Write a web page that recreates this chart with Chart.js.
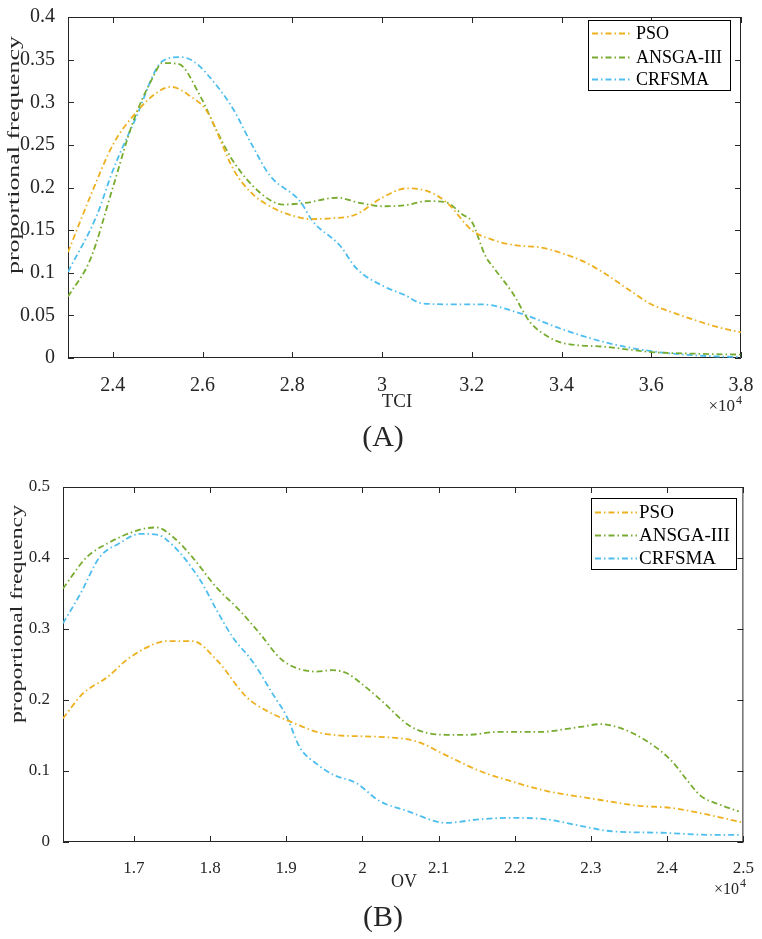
<!DOCTYPE html>
<html><head><meta charset="utf-8">
<script src="https://cdn.jsdelivr.net/npm/chart.js@4.4.1/dist/chart.umd.min.js"></script>
<style>
html,body{margin:0;padding:0;background:#fff;width:762px;height:939px;overflow:hidden}
canvas{position:absolute;left:0}
#ca{top:0}
#cb{top:465px}
</style></head><body>
<canvas id="ca" width="762" height="465"></canvas>
<canvas id="cb" width="762" height="474"></canvas>
<script>
// ---------- data ----------
const seriesNames = ['PSO', 'ANSGA-III', 'CRFSMA'];
const seriesColors = ['#EDB120', '#77AC30', '#4DBEEE'];

// Chart (A): TCI (x10^4)
const tciTicks = [2.4, 2.6, 2.8, 3.0, 3.2, 3.4, 3.6, 3.8];
const freqTicksA = [0, 0.05, 0.1, 0.15, 0.2, 0.25, 0.3, 0.35, 0.4];
const psoTciX = [2.30, 2.35, 2.40, 2.45, 2.50, 2.53, 2.57, 2.61, 2.67, 2.71, 2.75, 2.80, 2.84, 2.89, 2.94, 3.00, 3.055, 3.10, 3.145, 3.20, 3.25, 3.30, 3.35, 3.40, 3.45, 3.50, 3.55, 3.60, 3.65, 3.70, 3.75, 3.80];
const psoTciY = [0.124, 0.19, 0.25, 0.287, 0.312, 0.318, 0.308, 0.289, 0.22, 0.193, 0.178, 0.167, 0.163, 0.164, 0.168, 0.188, 0.199, 0.196, 0.182, 0.15, 0.138, 0.132, 0.13, 0.123, 0.113, 0.098, 0.08, 0.063, 0.053, 0.044, 0.036, 0.03];
const nsgaTciX = [2.30, 2.35, 2.40, 2.445, 2.49, 2.51, 2.546, 2.594, 2.632, 2.668, 2.73, 2.78, 2.83, 2.90, 2.95, 3.00, 3.05, 3.10, 3.14, 3.18, 3.20, 3.23, 3.25, 3.29, 3.33, 3.37, 3.40, 3.50, 3.60, 3.70, 3.80];
const nsgaTciY = [0.072, 0.116, 0.20, 0.277, 0.33, 0.346, 0.345, 0.308, 0.266, 0.231, 0.193, 0.18, 0.182, 0.188, 0.182, 0.178, 0.179, 0.184, 0.183, 0.168, 0.16, 0.12, 0.105, 0.077, 0.042, 0.025, 0.018, 0.013, 0.007, 0.005, 0.004];
const crfTciX = [2.30, 2.364, 2.40, 2.45, 2.51, 2.55, 2.58, 2.61, 2.667, 2.71, 2.75, 2.817, 2.846, 2.906, 2.943, 3.00, 3.05, 3.09, 3.15, 3.22, 3.31, 3.40, 3.50, 3.60, 3.70, 3.80];
const crfTciY = [0.101, 0.167, 0.22, 0.28, 0.348, 0.353, 0.348, 0.333, 0.293, 0.25, 0.214, 0.184, 0.16, 0.132, 0.105, 0.085, 0.074, 0.064, 0.063, 0.063, 0.052, 0.034, 0.018, 0.008, 0.003, 0.001];

// Chart (B): OV (x10^4)
const ovTicks = [1.7, 1.8, 1.9, 2.0, 2.1, 2.2, 2.3, 2.4, 2.5];
const freqTicksB = [0, 0.1, 0.2, 0.3, 0.4, 0.5];
const psoOvX = [1.607, 1.633, 1.665, 1.69, 1.715, 1.743, 1.777, 1.809, 1.848, 1.874, 1.90, 1.953, 2.022, 2.07, 2.11, 2.154, 2.197, 2.241, 2.302, 2.363, 2.406, 2.442, 2.497];
const psoOvY = [0.174, 0.209, 0.232, 0.256, 0.273, 0.283, 0.283, 0.256, 0.204, 0.185, 0.172, 0.152, 0.148, 0.142, 0.122, 0.10, 0.085, 0.072, 0.061, 0.051, 0.048, 0.041, 0.028];
const nsgaOvX = [1.607, 1.638, 1.668, 1.708, 1.73, 1.751, 1.777, 1.808, 1.839, 1.865, 1.895, 1.94, 1.96, 1.979, 2.0, 2.022, 2.066, 2.11, 2.14, 2.176, 2.232, 2.285, 2.313, 2.337, 2.372, 2.406, 2.424, 2.444, 2.468, 2.494];
const nsgaOvY = [0.357, 0.401, 0.422, 0.44, 0.443, 0.43, 0.401, 0.359, 0.326, 0.294, 0.256, 0.24, 0.242, 0.238, 0.222, 0.202, 0.161, 0.151, 0.151, 0.155, 0.155, 0.162, 0.166, 0.161, 0.143, 0.114, 0.09, 0.065, 0.053, 0.043];
const crfOvX = [1.607, 1.63, 1.655, 1.68, 1.708, 1.73, 1.751, 1.787, 1.809, 1.83, 1.856, 1.882, 1.90, 1.918, 1.94, 1.961, 1.992, 2.022, 2.058, 2.11, 2.154, 2.197, 2.241, 2.285, 2.328, 2.393, 2.459, 2.494];
const crfOvY = [0.308, 0.35, 0.401, 0.42, 0.434, 0.433, 0.418, 0.369, 0.326, 0.288, 0.254, 0.209, 0.178, 0.133, 0.11, 0.095, 0.083, 0.058, 0.044, 0.027, 0.032, 0.034, 0.032, 0.023, 0.015, 0.013, 0.01, 0.01];

// ---------- helpers ----------
const FONT = '"Liberation Serif","Times New Roman",serif';
const AXC = '#262626';
const pts = (xs, ys) => xs.map((x, i) => ({x: x, y: ys[i]}));
const fmt = v => String(Number(v.toFixed(3)));

function mkDataset(i, xs, ys) {
  return {
    label: seriesNames[i], data: pts(xs, ys),
    borderColor: seriesColors[i], backgroundColor: seriesColors[i],
    borderWidth: 1.8, borderDash: [6, 3, 1.5, 3], pointRadius: 0,
    cubicInterpolationMode: 'monotone', fill: false
  };
}

function stretchText(ctx, text, x, y, size, length, rotate) {
  ctx.save();
  ctx.font = size + 'px ' + FONT;
  const w = ctx.measureText(text).width;
  ctx.translate(x, y);
  if (rotate) ctx.rotate(-Math.PI / 2);
  ctx.scale(length ? length / w : 1, 1);
  ctx.textAlign = 'center'; ctx.textBaseline = 'middle';
  ctx.fillStyle = AXC;
  ctx.fillText(text, 0, 0);
  ctx.restore();
}

const framePlugin = {
  id: 'frame',
  beforeDatasetsDraw(chart) {
    const ctx = chart.ctx, a = chart.chartArea;
    const xs = chart.scales.x, ys = chart.scales.y;
    ctx.save();
    ctx.strokeStyle = AXC; ctx.lineWidth = 1;
    ctx.strokeRect(a.left + 0.5, a.top + 0.5, a.right - a.left - 1, a.bottom - a.top - 1);
    const L = 6;
    ctx.beginPath();
    xs.ticks.forEach(t => {
      const p = Math.round(xs.getPixelForValue(t.value)) + 0.5;
      ctx.moveTo(p, a.bottom); ctx.lineTo(p, a.bottom - L);
      ctx.moveTo(p, a.top); ctx.lineTo(p, a.top + L);
    });
    ys.ticks.forEach(t => {
      const p = Math.round(ys.getPixelForValue(t.value)) + 0.5;
      ctx.moveTo(a.left, p); ctx.lineTo(a.left + L, p);
      ctx.moveTo(a.right, p); ctx.lineTo(a.right - L, p);
    });
    ctx.stroke();
    ctx.restore();
  },
  afterDraw(chart) {
    const o = chart.options.plugins.frame;
    const ctx = chart.ctx;
    // legend
    const lg = o.legend;
    ctx.save();
    ctx.fillStyle = '#fff'; ctx.fillRect(lg.x, lg.y, lg.w, lg.h);
    ctx.strokeStyle = '#000'; ctx.lineWidth = 1;
    ctx.strokeRect(lg.x + 0.5, lg.y + 0.5, lg.w, lg.h);
    ctx.font = lg.size + 'px ' + FONT;
    ctx.textAlign = 'left'; ctx.textBaseline = 'middle';
    chart.data.datasets.forEach((ds, i) => {
      const y = lg.rows[i];
      ctx.strokeStyle = ds.borderColor; ctx.lineWidth = 1.8;
      ctx.setLineDash(ds.borderDash);
      ctx.beginPath(); ctx.moveTo(lg.l0, y + 0.5); ctx.lineTo(lg.l1, y + 0.5); ctx.stroke();
      ctx.setLineDash([]);
      ctx.fillStyle = '#000';
      ctx.fillText(ds.label, lg.tx, y + 1);
    });
    ctx.restore();
    // titles
    stretchText(ctx, o.yTitle.text, o.yTitle.x, o.yTitle.y, o.yTitle.size, o.yTitle.len, true);
    stretchText(ctx, o.xTitle.text, o.xTitle.x, o.xTitle.y, o.xTitle.size, o.xTitle.len, false);
    stretchText(ctx, o.panel.text, o.panel.x, o.panel.y, o.panel.size, 0, false);
    // x10^4
    const e = o.expo;
    ctx.save();
    ctx.fillStyle = AXC; ctx.textAlign = 'right'; ctx.textBaseline = 'middle';
    ctx.font = Math.round(e.size * 0.72) + 'px ' + FONT;
    const w4 = ctx.measureText('4').width;
    ctx.fillText('4', e.x, e.y - e.size * 0.38);
    ctx.font = e.size + 'px ' + FONT;
    ctx.fillText('\u00d710', e.x - w4 - 1, e.y);
    ctx.restore();
  }
};

function makeChart(id, cfg) {
  const H = cfg.H;
  return new Chart(document.getElementById(id), {
    type: 'line',
    data: {datasets: cfg.datasets},
    options: {
      responsive: false, animation: false, devicePixelRatio: 1,
      layout: {padding: {top: cfg.top, right: 762 - cfg.right, left: 0, bottom: 0}},
      plugins: {legend: {display: false}, tooltip: {enabled: false},
        frame: cfg.frame},
      scales: {
        x: {
          type: 'linear', min: cfg.xmin, max: cfg.xmax,
          afterBuildTicks: s => { s.ticks = cfg.xticks.map(v => ({value: v})); },
          afterFit: s => { s.height = H - cfg.bottom; },
          grid: {display: false}, border: {display: false},
          ticks: {color: AXC, font: {family: FONT, size: cfg.tickSize}, padding: cfg.xpad,
            maxRotation: 0, autoSkip: false, callback: v => fmt(v)}
        },
        y: {
          type: 'linear', min: cfg.ymin, max: cfg.ymax,
          afterBuildTicks: s => { s.ticks = cfg.yticks.map(v => ({value: v})); },
          afterFit: s => { s.width = cfg.left; },
          grid: {display: false}, border: {display: false},
          ticks: {color: AXC, font: {family: FONT, size: cfg.tickSize}, padding: 5,
            autoSkip: false, callback: v => fmt(v)}
        }
      }
    },
    plugins: [framePlugin]
  });
}

makeChart('ca', {
  H: 465, top: 10, bottom: 358, left: 68, right: 741,
  xmin: 2.3, xmax: 3.8, ymin: 0, ymax: 0.4, xticks: tciTicks, yticks: freqTicksA,
  tickSize: 20, xpad: 8,
  datasets: [mkDataset(0, psoTciX, psoTciY), mkDataset(1, nsgaTciX, nsgaTciY), mkDataset(2, crfTciX, crfTciY)],
  frame: {
    legend: {x: 588, y: 20, w: 142, h: 70, rows: [33, 57, 79], l0: 592, l1: 632, tx: 636, size: 18},
    yTitle: {text: 'proportional frequency', x: 15, y: 155, size: 16, len: 238},
    xTitle: {text: 'TCI', x: 397, y: 402, size: 19, len: 0},
    panel: {text: '(A)', x: 383, y: 438, size: 30},
    expo: {x: 742, y: 407, size: 17}
  }
});

makeChart('cb', {
  H: 474, top: 22, bottom: 377, left: 63, right: 746,
  xmin: 1.607, xmax: 2.5, ymin: 0, ymax: 0.5, xticks: ovTicks, yticks: freqTicksB,
  tickSize: 17, xpad: 8,
  datasets: [mkDataset(0, psoOvX, psoOvY), mkDataset(1, nsgaOvX, nsgaOvY), mkDataset(2, crfOvX, crfOvY)],
  frame: {
    legend: {x: 591, y: 33, w: 145, h: 71, rows: [47, 70, 93], l0: 595, l1: 637, tx: 639, size: 19},
    yTitle: {text: 'proportional frequency', x: 18, y: 149, size: 17, len: 218},
    xTitle: {text: 'OV', x: 404, y: 417, size: 18, len: 0},
    panel: {text: '(B)', x: 383, y: 453, size: 30},
    expo: {x: 746, y: 425, size: 16}
  }
});
</script>
</body></html>
